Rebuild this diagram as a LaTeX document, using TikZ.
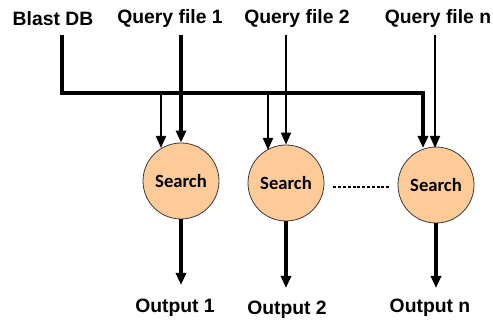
\documentclass[tikz,border=0pt]{standalone}
\usepackage{fontspec}
\setmainfont{Liberation Sans}
\newfontfamily\searchfont{Carlito}
\usetikzlibrary{arrows.meta}
\definecolor{peach}{HTML}{FCCB97}
\definecolor{rimgray}{HTML}{3A3A3A}
\tikzset{
  lbl/.style={font=\bfseries\fontsize{14.5}{16}\selectfont, inner sep=0pt},
  searchnode/.style={circle, draw=rimgray, line width=0.6pt, fill=peach,
    minimum size=57pt, inner sep=0pt, font=\searchfont\bfseries\fontsize{14}{16}\selectfont},
  thick line/.style={line width=2.3pt},
  thin line/.style={line width=1.3pt},
  tip/.style={-{Triangle[length=9pt,width=7.5pt]}},
  dots/.style={line width=1.3pt, dash pattern=on 2.2pt off 1.4pt},
}
\begin{document}
\begin{tikzpicture}[x=0.75pt,y=-0.75pt]
\useasboundingbox (0,0) rectangle (493,320);

% inputs
\node[lbl] (db) at (53,19) {Blast DB};
\node[lbl] (q1) at (170,19) {Query file 1};
\node[lbl] (q2) at (297,19) {Query file 2};
\node[lbl] (qn) at (438,19) {Query file n};

% search steps
\node[searchnode] (s1) at (181,181) {Search};
\node[searchnode] (s2) at (286,183) {Search};
\node[searchnode] (sn) at (436,185) {Search};

% outputs
\node[lbl] (o1) at (175,308) {Output 1};
\node[lbl] (o2) at (287,310) {Output 2};
\node[lbl] (on) at (430,308) {Output n};

% database bus
\coordinate (b0) at (62,35);
\coordinate (b1) at (62,93);
\coordinate (bn) at (423,93);
\coordinate (bnt) at (423,148);
\coordinate (bs1) at (161,93);
\coordinate (bs1t) at (161,148);
\coordinate (bs2) at (268,93);
\coordinate (bs2t) at (268,150);
\draw[thick line, tip] (b0) -- (b1) -- (bn) -- (bnt);
\draw[thin line, tip] (bs1) -- (bs1t);
\draw[thin line, tip] (bs2) -- (bs2t);

% query files
\coordinate (q1s) at (181,35);
\coordinate (q2s) at (286,35);
\coordinate (qns) at (435,35);
\coordinate (qnt) at (435,148);
\draw[thick line, tip] (q1s) -- (s1.north);
\draw[thin line, tip] (q2s) -- (s2.north);
\draw[thin line, tip] (qns) -- (qnt);

% ellipsis between steps
\path (s2.east) ++(9,4) coordinate (d0) (sn.west) ++(-8,2) coordinate (d1);
\draw[dots] (d0) -- (d1);

% results
\coordinate (o1t) at (181,285);
\coordinate (o2t) at (286,288);
\coordinate (ont) at (436,288);
\draw[thick line, tip] (s1.south) -- (o1t);
\draw[thick line, tip] (s2.south) -- (o2t);
\draw[thick line, tip] (sn.south) -- (ont);
\end{tikzpicture}
\end{document}
